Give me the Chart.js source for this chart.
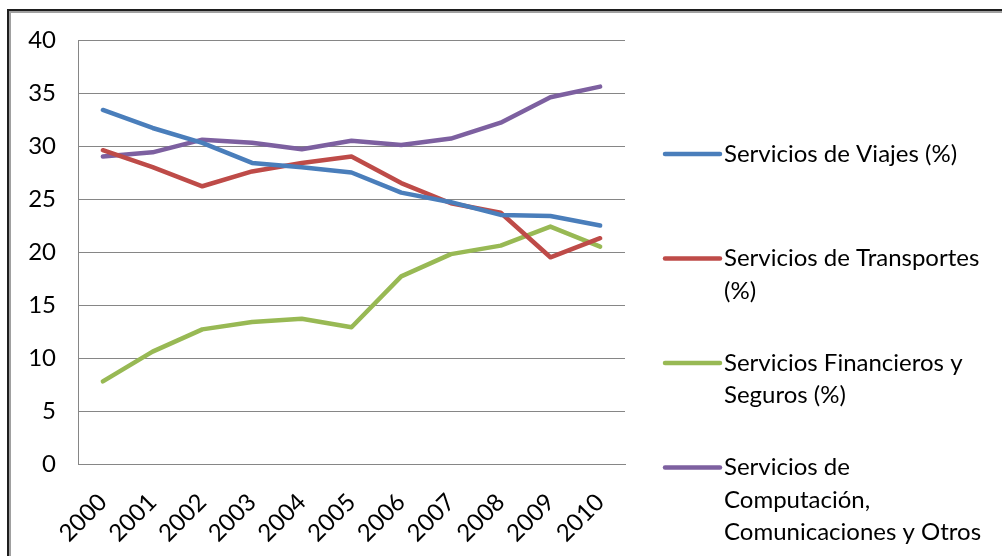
<!DOCTYPE html>
<html>
<head>
<meta charset="utf-8">
<script src="https://cdn.jsdelivr.net/npm/chart.js@4.4.1/dist/chart.umd.min.js"></script>
<style>
  html, body { margin: 0; padding: 0; background: #fff; }
  #wrap { position: relative; width: 1002px; height: 556px; overflow: hidden; }
  #frame {
    position: absolute; left: 7px; top: 9px; width: 1100px; height: 700px;
    border-left: 2px solid #1e1e1e; border-top: 2px solid #1e1e1e;
    box-shadow: inset 2px 2px 0 #a0a0a0;
  }
  #chart { position: absolute; left: 0; top: 0; }
</style>
</head>
<body>
<div id="wrap">
  <div id="frame"></div>
  <canvas id="chart" width="1002" height="556"></canvas>
</div>
<script>
const years = ["2000", "2001", "2002", "2003", "2004", "2005", "2006", "2007", "2008", "2009", "2010"];

const viajes = [33.4, 31.7, 30.3, 28.4, 28.0, 27.5, 25.6, 24.7, 23.5, 23.4, 22.5];
const transportes = [29.6, 28.0, 26.2, 27.6, 28.4, 29.0, 26.5, 24.6, 23.7, 19.5, 21.3];
const financieros = [7.8, 10.6, 12.7, 13.4, 13.7, 12.9, 17.7, 19.8, 20.6, 22.4, 20.5];
const computacion = [29.0, 29.4, 30.6, 30.3, 29.7, 30.5, 30.1, 30.7, 32.2, 34.6, 35.6];

const seriesLabels = [
    ["Servicios de Viajes (%)"],
    ["Servicios de Transportes", "(%)"],
    ["Servicios Financieros y", "Seguros (%)"],
    ["Servicios de", "Computación,", "Comunicaciones y Otros"]
];
const seriesColors = ["#4a7ebb", "#be4b48", "#98b954", "#7d60a0"];

const yTicks = [0, 5, 10, 15, 20, 25, 30, 35, 40];

const FONT = "Lato, 'Open Sans', sans-serif";

// legend drawn at the right, one entry per dataset, labels can wrap over several lines
const sideLegend = {
    id: "sideLegend",
    afterDraw(chart) {
        const c = chart.ctx;
        const x0 = 665, lineLen = 55, textX = 724;
        const firstY = 154, step = 104.5, lineH = 32.5;
        c.save();
        c.font = "24px " + FONT;
        c.textBaseline = "middle";
        c.fillStyle = "#000";
        chart.data.datasets.forEach((ds, i) => {
            const y = firstY + i * step;
            c.strokeStyle = ds.borderColor;
            c.lineWidth = 4.5;
            c.lineCap = "round";
            c.beginPath();
            c.moveTo(x0, y);
            c.lineTo(x0 + lineLen, y);
            c.stroke();
            ds.legendLines.forEach((t, k) => c.fillText(t, textX, y + k * lineH));
        });
        c.restore();
    }
};

new Chart(document.getElementById("chart"), {
    type: "line",
    data: {
        labels: years,
        datasets: [viajes, transportes, financieros, computacion].map((vals, i) => ({
            label: seriesLabels[i].join(" "),
            legendLines: seriesLabels[i],
            data: vals,
            borderColor: seriesColors[i],
            backgroundColor: seriesColors[i],
            borderWidth: 4.5,
            borderJoinStyle: "round",
            borderCapStyle: "round",
            pointRadius: 0,
            tension: 0
        }))
    },
    options: {
        responsive: false,
        animation: false,
        layout: { padding: { left: 0, right: 377, top: 40, bottom: 0 } },
        plugins: {
            legend: { display: false },
            tooltip: { enabled: false }
        },
        scales: {
            x: {
                offset: true,
                grid: { display: false, drawTicks: false },
                border: { display: true, color: "#868686", width: 1 },
                ticks: {
                    color: "#000",
                    font: { family: FONT, size: 24 },
                    minRotation: 45,
                    maxRotation: 45,
                    padding: 24
                },
                afterFit(scale) { scale.height = 92; }
            },
            y: {
                min: 0,
                max: 40,
                afterBuildTicks(scale) { scale.ticks = yTicks.map(v => ({ value: v })); },
                grid: { color: "#868686", lineWidth: 1, drawTicks: false },
                border: { display: true, color: "#868686", width: 1 },
                ticks: {
                    color: "#000",
                    font: { family: FONT, size: 24 },
                    padding: 22
                },
                afterFit(scale) { scale.width = 78; }
            }
        }
    },
    plugins: [sideLegend]
});
</script>
</body>
</html>
